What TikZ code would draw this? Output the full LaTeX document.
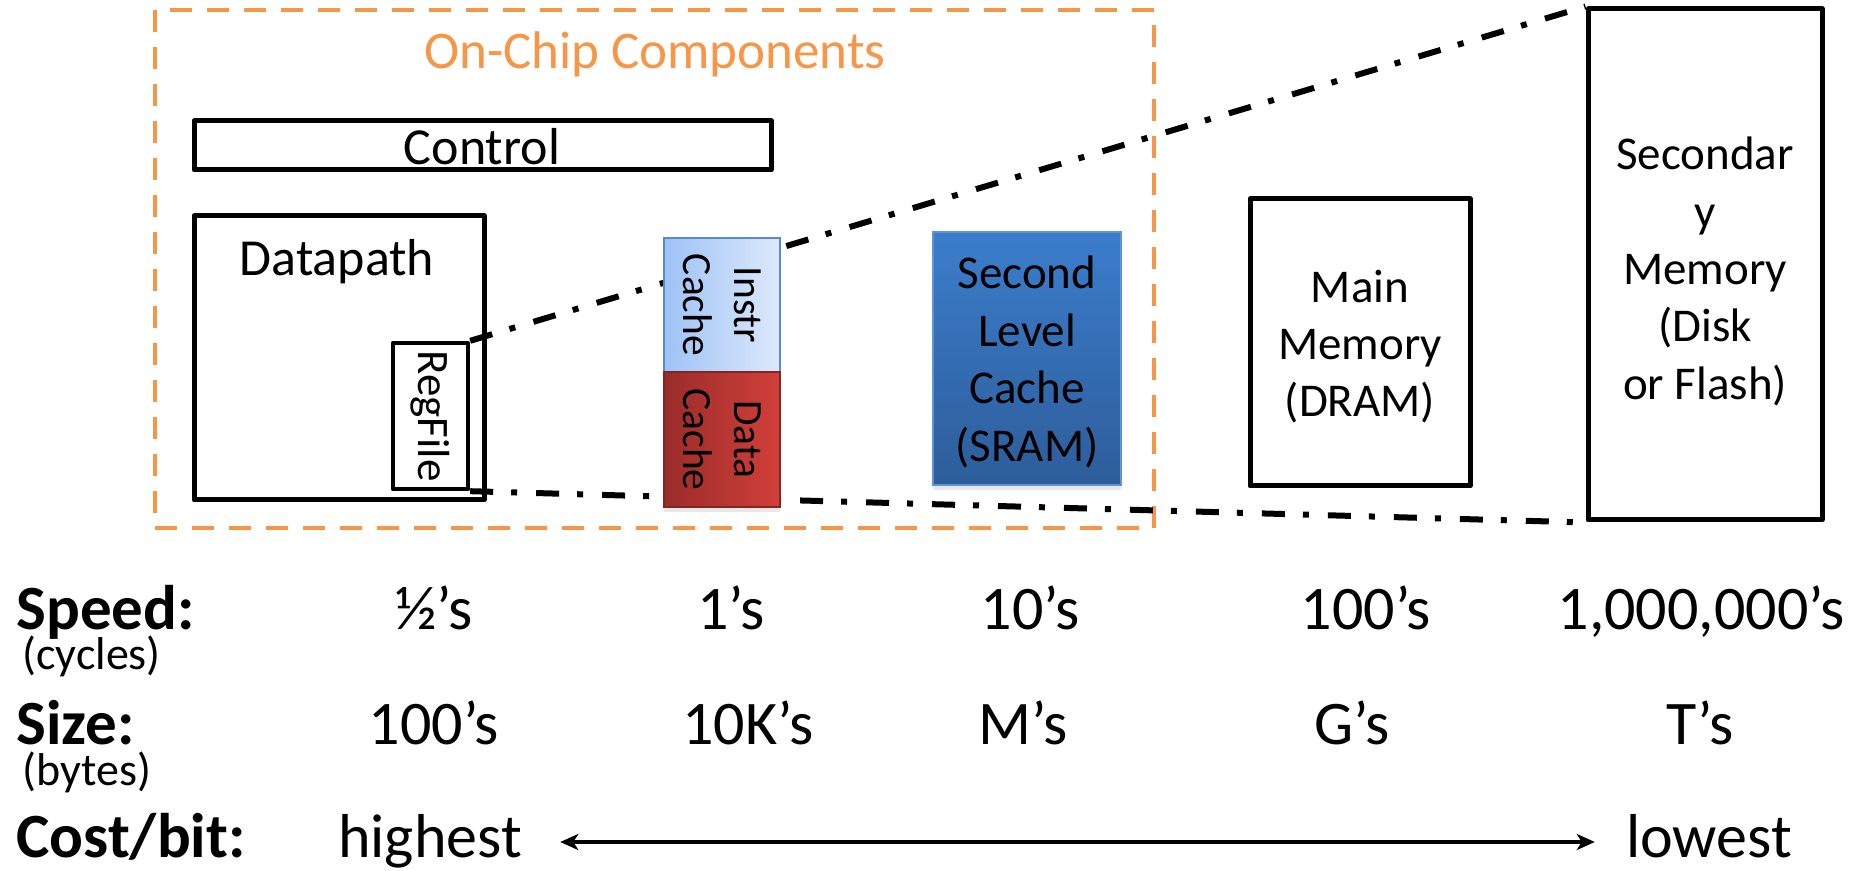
\documentclass[tikz,border=0pt]{standalone}
\usepackage{fontspec}
\setmainfont{Carlito}
\usetikzlibrary{arrows.meta,fit,shadows}

\definecolor{chiporange}{HTML}{F79646}
\definecolor{icL}{HTML}{9EC2F6}
\definecolor{icR}{HTML}{DDE9FB}
\definecolor{icB}{HTML}{5A8ACB}
\definecolor{dcL}{HTML}{9A2C2A}
\definecolor{dcR}{HTML}{D23F39}
\definecolor{l2T}{HTML}{3B7DCC}
\definecolor{l2B}{HTML}{2D5D9A}
\definecolor{l2E}{HTML}{5E93D6}

\begin{document}
\begin{tikzpicture}[x=0.5pt,y=-0.5pt,
  box/.style={draw=black, line width=2.5pt, line join=round, inner sep=0pt},
  chipframe/.style={draw=chiporange, line width=2.3pt, dash pattern=on 11pt off 7.5pt, inner sep=0pt},
  zoomline/.style={draw=black, line width=3pt, dash pattern=on 11.5pt off 9pt on 3pt off 9.5pt},
  txt/.style={inner sep=0pt, align=center},
  blocktxt/.style={txt, font=\fontsize{26pt}{31.7pt}\selectfont},
  memtxt/.style={txt, font=\fontsize{23.5pt}{28.7pt}\selectfont},
  cachetxt/.style={txt, rotate=-90, font=\fontsize{20.75pt}{25.3pt}\selectfont},
  cacheshadow/.style={drop shadow={shadow xshift=0pt, shadow yshift=-2.5pt, opacity=0.18}},
  rowlbl/.style={inner sep=0pt, anchor=base west, font=\fontsize{31.5pt}{38pt}\selectfont\bfseries},
  unitlbl/.style={inner sep=0pt, anchor=base west, font=\fontsize{23pt}{28pt}\selectfont},
  val/.style={inner sep=0pt, anchor=base, font=\fontsize{31pt}{38pt}\selectfont},
  costarrow/.style={line width=2pt,
    {Stealth[length=9pt,width=8pt,inset=2.5pt]}-{Stealth[length=9pt,width=8pt,inset=2.5pt]}}
]
\useasboundingbox (0,0) rectangle (1865,871);

% on-chip region
\node[chipframe, fit={(155,10) (1154,528)}] (chip) {};
\node[txt, anchor=base, text=chiporange, font=\fontsize{26.5pt}{32pt}\selectfont] (chiplbl) at (655,69) {On-Chip Components};

% processor blocks
\node[box, fit={(194,121) (771,170)}] (ctrl) {};
\node[blocktxt, anchor=base] (ctrltxt) at (482,165) {Control};
\node[box, fit={(194,216) (484,500)}] (dp) {};
\node[blocktxt, anchor=base] (dptxt) at (337,276) {Datapath};
\node[box, line width=2.2pt, fit={(393,343) (468,489)}] (rf) {};
\node[txt, rotate=-90, font=\fontsize{22.5pt}{27pt}\selectfont] (rftxt) at (rf.center) {RegFile};

% secondary storage
\node[box, fit={(1588,9) (1822,520)}] (sec) {};
\node[memtxt] (sectxt) at ([yshift=-3.5pt]sec.center) {Secondar\\y\\Memory\\(Disk\\or Flash)};

% zoom-out lines from the register file to secondary storage
\draw[zoomline] (rf.north east) -- (sec.north west);
\draw[zoomline] (rf.south east) -- (sec.south west);

% first level caches
\node[fit={(664,238) (780,372)}, inner sep=0pt, left color=icL, right color=icR, draw=icB, line width=1pt, cacheshadow] (ic) {};
\node[cachetxt] (ictxt) at (ic.center) {Instr\\Cache};
\node[fit={(664,372) (780,507)}, inner sep=0pt, left color=dcL, right color=dcR, draw=dcL!85!black, line width=0.6pt, cacheshadow] (dc) {};
\node[cachetxt] (dctxt) at (dc.center) {Data\\Cache};

% second level cache
\node[fit={(933,232) (1121,485)}, inner sep=0pt, top color=l2T, bottom color=l2B, draw=l2E, line width=0.8pt, cacheshadow] (l2) {};
\node[memtxt] (l2txt) at ([yshift=-1.75pt]l2.center) {Second\\Level\\Cache\\(SRAM)};

% main memory
\node[box, fit={(1250,199) (1470,486)}] (mm) {};
\node[memtxt] (mmtxt) at ([yshift=-2pt]mm.center) {Main\\Memory\\(DRAM)};

% speed row
\node[rowlbl] (speed) at (16,630) {Speed:};
\node[unitlbl] (cycles) at (22,669) {(cycles)};
\node[val] (sp1) at (434,630) {½’s};
\node[val] (sp2) at (731,630) {1’s};
\node[val] (sp3) at (1030,630) {10’s};
\node[val] (sp4) at (1366,630) {100’s};
\node[val] (sp5) at (1701,630) {1,000,000’s};

% size row
\node[rowlbl] (size) at (16,744) {Size:};
\node[unitlbl] (bytes) at (22,785) {(bytes)};
\node[val] (sz1) at (434,744) {100’s};
\node[val] (sz2) at (748,744) {10K’s};
\node[val] (sz3) at (1023,744) {M’s};
\node[val] (sz4) at (1352,744) {G’s};
\node[val] (sz5) at (1700,744) {T’s};

% cost row
\node[rowlbl] (cost) at (16,857) {Cost/bit:};
\node[val] (highest) at (430,857) {highest};
\node[val] (lowest) at (1709,857) {lowest};
\path (highest.base east) ++(38,-15) coordinate (costL);
\path (lowest.base west) ++(-31,-15) coordinate (costR);
\draw[costarrow] (costL) -- (costR);
\end{tikzpicture}
\end{document}
